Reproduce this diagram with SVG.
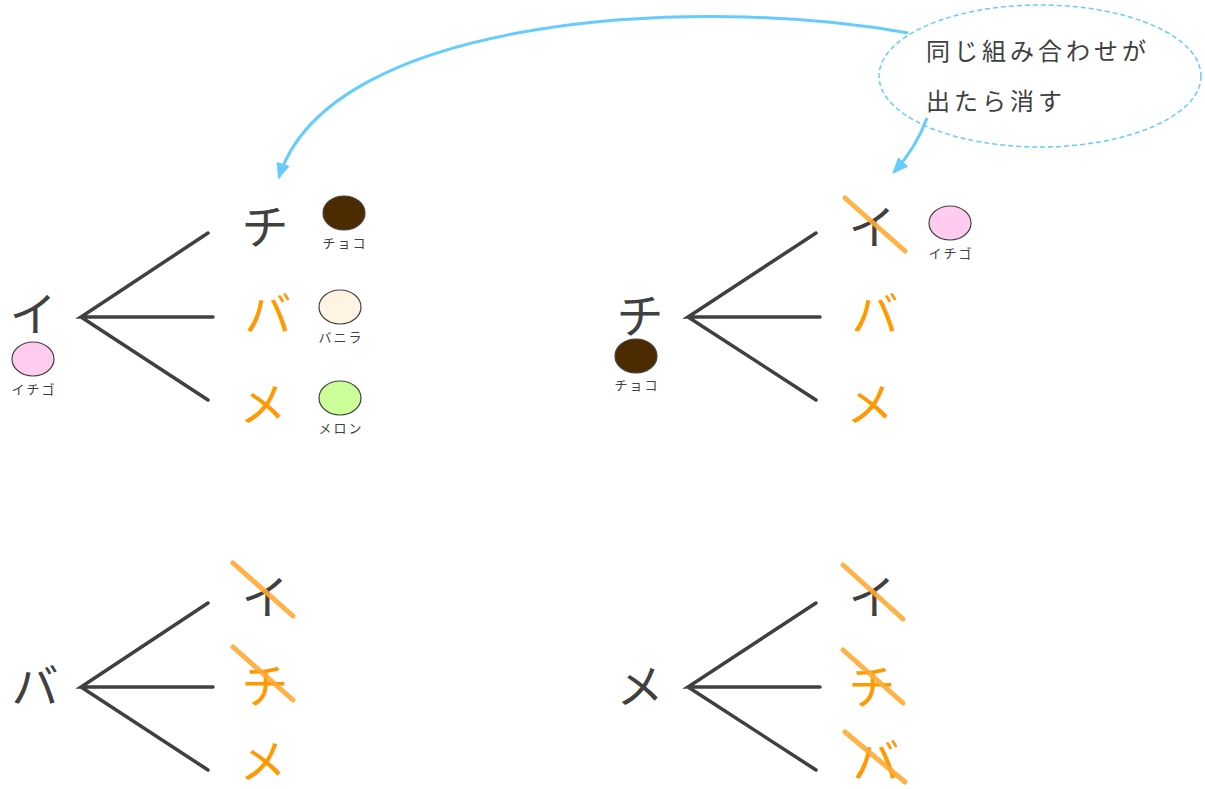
<svg xmlns="http://www.w3.org/2000/svg" width="1205" height="789" viewBox="0 0 1205 789">
<style>
.big{font-family:"Noto Sans CJK JP","Noto Sans",sans-serif;font-size:47px;text-anchor:middle;dominant-baseline:central;}
.dk{fill:#404040}
.or{fill:#FF9900}
.lbl{font-family:"Noto Sans CJK JP","Noto Sans",sans-serif;font-size:13px;fill:#404040;text-anchor:middle;dominant-baseline:central;letter-spacing:2px}
.note{font-family:"Noto Sans CJK JP","Noto Sans",sans-serif;font-size:24px;fill:#404040;letter-spacing:4px}
.br{stroke:#404040;stroke-width:3.5;stroke-linecap:round;fill:none}
.st{stroke:#FFAA33;stroke-opacity:0.9;stroke-width:5;stroke-linecap:round}
.ball{stroke:#404040;stroke-width:1.2}
.arr{stroke:#66CCFF;stroke-width:3;fill:none;marker-end:url(#ah)}
</style>
<defs>
<marker id="ah" viewBox="0 0 12 10" refX="10" refY="5" markerWidth="5.5" markerHeight="5" orient="auto" markerUnits="strokeWidth">
<path d="M0,0 L12,5 L0,10 Z" fill="#66CCFF"/>
</marker>
</defs>
<rect width="1205" height="789" fill="#ffffff"/>

<g id="connectors">
<path class="arr" d="M908,33 C700,-5 330,15 279,177"/>
<path class="arr" d="M927,118 Q916,148 894,172"/>
</g>

<g id="note">
<ellipse cx="1040" cy="76" rx="161" ry="71" fill="none" stroke="#66CCFF" stroke-width="1.5" stroke-dasharray="5,3"/>
<text class="note" x="926" y="60">同じ組み合わせが</text>
<text class="note" x="926" y="110">出たら消す</text>
</g>

<g id="tree-i">
<text class="big dk" x="33" y="310">イ</text>
<ellipse class="ball" cx="33" cy="359" rx="21" ry="17" fill="#FFCCF0"/>
<text class="lbl" x="34" y="388">イチゴ</text>
<path class="br" d="M208,233 L81,317 L213,317 M81,317 L208,400"/>
<text class="big dk" x="265" y="223">チ</text>
<ellipse class="ball" cx="344" cy="213" rx="21" ry="17" fill="#4D2B00"/>
<text class="lbl" x="345" y="242">チョコ</text>
<text class="big or" x="268" y="310">バ</text>
<ellipse class="ball" cx="340" cy="307" rx="21" ry="17" fill="#FFF3E3"/>
<text class="lbl" x="341" y="336">バニラ</text>
<text class="big or" x="263" y="400">メ</text>
<ellipse class="ball" cx="340" cy="398" rx="21" ry="17" fill="#CCFF99"/>
<text class="lbl" x="341" y="427">メロン</text>
</g>

<g id="tree-chi">
<text class="big dk" x="640" y="312">チ</text>
<ellipse class="ball" cx="636" cy="356" rx="21" ry="17" fill="#4D2B00"/>
<text class="lbl" x="637" y="384">チョコ</text>
<path class="br" d="M816,233 L688,317 L820,317 M688,317 L816,400"/>
<text class="big dk" x="872" y="223">イ</text>
<line class="st" x1="845" y1="198" x2="905" y2="251"/>
<ellipse class="ball" cx="950" cy="223" rx="21" ry="17" fill="#FFCCF0"/>
<text class="lbl" x="951" y="252">イチゴ</text>
<text class="big or" x="875" y="310">バ</text>
<text class="big or" x="870" y="400">メ</text>
</g>

<g id="tree-ba">
<text class="big dk" x="35" y="682">バ</text>
<path class="br" d="M208,603 L81,687 L213,687 M81,687 L208,770"/>
<text class="big dk" x="265" y="593">イ</text>
<text class="big or" x="265" y="682">チ</text>
<text class="big or" x="263" y="757">メ</text>
<line class="st" x1="233" y1="563" x2="293" y2="616"/>
<line class="st" x1="233" y1="647" x2="293" y2="700"/>
</g>

<g id="tree-me">
<text class="big dk" x="640" y="682">メ</text>
<path class="br" d="M816,603 L688,687 L820,687 M688,687 L816,770"/>
<text class="big dk" x="872" y="593">イ</text>
<text class="big or" x="872" y="683">チ</text>
<text class="big or" x="876" y="757">バ</text>
<line class="st" x1="843" y1="565" x2="903" y2="619"/>
<line class="st" x1="843" y1="650" x2="903" y2="703"/>
<line class="st" x1="845" y1="732" x2="905" y2="782"/>
</g>
</svg>
